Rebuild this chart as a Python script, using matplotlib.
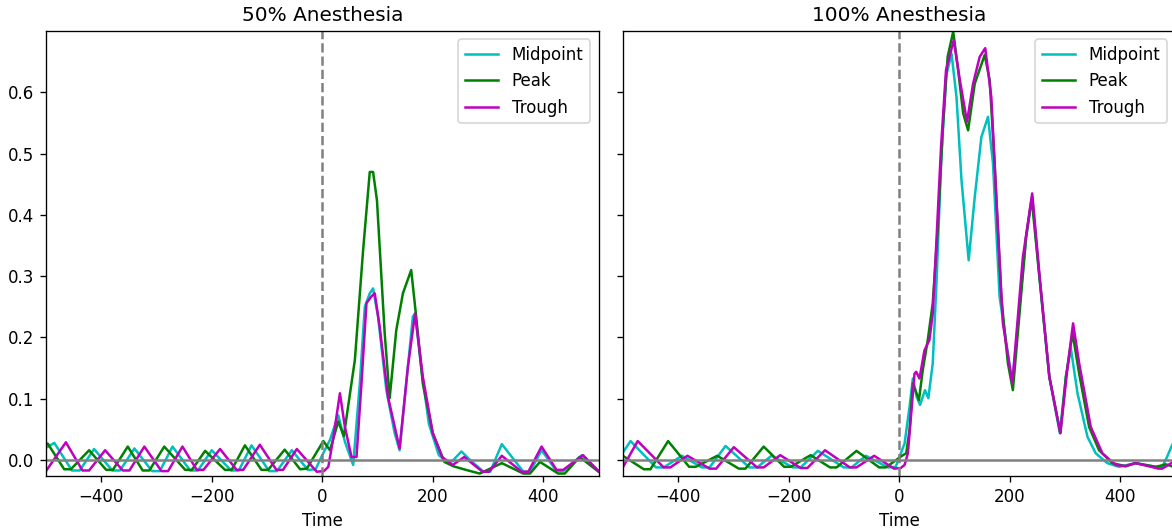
import matplotlib
matplotlib.use("Agg")
import matplotlib.pyplot as plt

# ---- 50% anesthesia ----
t_mid_50 = [-500, -485, -453, -439, -413, -380, -366, -340, -308, -294, -271, -239, -225, -200, -165,
            -151, -128, -96, -82, -55, -26, -12, 0, 14, 29, 41, 56, 68, 77, 86, 92, 101, 116, 131,
            140, 152, 164, 168, 179, 193, 211, 226, 235, 252, 270, 292, 304, 325, 364, 376, 397,
            424, 436, 470, 500]
mid_50 = [0.020, 0.028, -0.017, -0.017, 0.018, -0.017, -0.017, 0.019, -0.018, -0.018, 0.022, -0.017,
          -0.017, 0.016, -0.017, -0.017, 0.024, -0.018, -0.018, 0.016, -0.016, -0.015, 0.008, 0.033,
          0.073, 0.030, -0.008, 0.125, 0.250, 0.272, 0.280, 0.234, 0.114, 0.044, 0.016, 0.125,
          0.234, 0.239, 0.152, 0.059, 0.008, -0.003, -0.002, 0.014, -0.002, -0.019, -0.019, 0.026,
          -0.019, -0.019, 0.016, -0.018, -0.018, 0.008, -0.018]

t_peak_50 = [-500, -497, -467, -455, -422, -391, -379, -352, -325, -313, -286, -248, -236, -212, -176,
             -164, -140, -110, -98, -68, -40, -28, 2, 14, 29, 39, 59, 74, 86, 92, 99, 113, 122, 134,
             146, 161, 170, 182, 200, 221, 237, 260, 285, 325, 364, 376, 394, 427, 439, 466, 500]
peak_50 = [0.025, 0.027, -0.015, -0.015, 0.016, -0.016, -0.016, 0.022, -0.017, -0.017, 0.022, -0.016,
           -0.016, 0.015, -0.016, -0.016, 0.024, -0.016, -0.016, 0.017, -0.015, -0.014, 0.031, 0.016,
           0.063, 0.039, 0.163, 0.343, 0.470, 0.470, 0.424, 0.207, 0.101, 0.212, 0.272, 0.310,
           0.234, 0.125, 0.044, -0.003, -0.010, -0.016, -0.022, -0.005, -0.022, -0.022, -0.003,
           -0.022, -0.022, 0.005, -0.019]

t_trough_50 = [-500, -464, -434, -422, -393, -361, -349, -322, -291, -279, -253, -227, -215, -185,
               -155, -143, -113, -83, -71, -46, -10, 3, 11, 20, 32, 41, 53, 62, 71, 80, 89, 95, 104,
               119, 140, 155, 168, 182, 200, 217, 236, 257, 290, 302, 325, 361, 373, 397, 424, 436,
               472, 500]
trough_50 = [-0.018, 0.029, -0.017, -0.017, 0.016, -0.017, -0.017, 0.022, -0.018, -0.018, 0.022,
             -0.016, -0.016, 0.018, -0.016, -0.016, 0.025, -0.016, -0.016, 0.018, -0.019, -0.018,
             -0.011, 0.036, 0.109, 0.054, 0.005, 0.005, 0.125, 0.256, 0.267, 0.272, 0.217, 0.103,
             0.019, 0.152, 0.239, 0.136, 0.044, 0.005, -0.008, 0.005, -0.019, -0.019, 0.007, -0.019,
             -0.019, 0.022, -0.016, -0.016, 0.008, -0.018]

# ---- 100% anesthesia ----
t_mid_100 = [-500, -486, -440, -426, -393, -357, -343, -314, -271, -257, -231, -192, -178, -147, -100,
             -86, -60, -20, -6, 10, 19, 25, 32, 38, 47, 53, 61, 68, 76, 85, 95, 104, 113, 126, 137,
             149, 161, 170, 182, 205, 230, 241, 254, 272, 291, 302, 311, 323, 341, 356, 377, 398,
             428, 470, 476, 485, 493, 500]
mid_100 = [0.012, 0.031, -0.012, -0.012, 0.007, -0.012, -0.012, 0.023, -0.012, -0.012, 0.007, -0.012,
           -0.012, 0.015, -0.012, -0.012, 0.007, -0.012, -0.011, 0.027, 0.087, 0.133, 0.103, 0.090,
           0.114, 0.101, 0.158, 0.294, 0.484, 0.626, 0.663, 0.592, 0.457, 0.326, 0.429, 0.527,
           0.560, 0.484, 0.266, 0.125, 0.364, 0.430, 0.299, 0.136, 0.044, 0.136, 0.182, 0.109,
           0.038, 0.011, -0.005, -0.011, -0.005, -0.012, -0.012, 0.005, 0.022, 0.035]

t_peak_100 = [-500, -462, -450, -418, -380, -368, -329, -290, -278, -245, -208, -196, -160, -125, -113,
              -77, -36, -24, 7, 13, 19, 25, 36, 43, 52, 61, 70, 79, 88, 98, 107, 116, 125, 137, 155,
              164, 173, 185, 197, 206, 218, 230, 240, 254, 272, 292, 302, 314, 326, 344, 362, 386,
              410, 428, 465, 483, 500]
peak_100 = [0.007, -0.015, -0.015, 0.031, -0.011, -0.011, 0.007, -0.014, -0.014, 0.022, -0.011,
            -0.011, 0.008, -0.012, -0.012, 0.015, -0.012, -0.012, 0.008, 0.011, 0.049, 0.125, 0.098,
            0.147, 0.196, 0.256, 0.375, 0.538, 0.658, 0.699, 0.636, 0.566, 0.538, 0.614, 0.661,
            0.620, 0.484, 0.266, 0.158, 0.114, 0.239, 0.364, 0.427, 0.299, 0.136, 0.044, 0.136,
            0.207, 0.141, 0.054, 0.016, -0.005, -0.010, -0.005, -0.011, -0.007, -0.012]

t_trough_100 = [-500, -473, -426, -414, -383, -343, -331, -299, -257, -245, -215, -178, -166, -134,
                -89, -77, -45, -9, 3, 10, 16, 22, 28, 31, 37, 46, 55, 61, 68, 76, 85, 99, 110, 123,
                134, 146, 156, 167, 176, 188, 205, 224, 241, 254, 272, 292, 305, 315, 326, 347, 368,
                392, 410, 428, 470, 476, 493, 500]
trough_100 = [-0.012, 0.031, -0.012, -0.012, 0.007, -0.014, -0.014, 0.021, -0.012, -0.012, 0.008,
              -0.013, -0.013, 0.016, -0.012, -0.012, 0.007, -0.014, -0.013, -0.008, 0.011, 0.076,
              0.141, 0.144, 0.133, 0.179, 0.196, 0.239, 0.364, 0.511, 0.636, 0.685, 0.620, 0.552,
              0.614, 0.658, 0.672, 0.592, 0.429, 0.223, 0.125, 0.330, 0.435, 0.304, 0.136, 0.044,
              0.152, 0.223, 0.158, 0.054, 0.011, -0.008, -0.010, -0.005, -0.014, -0.014, -0.005,
              -0.002]

panels = [
    ("50% Anesthesia", (t_mid_50, mid_50), (t_peak_50, peak_50), (t_trough_50, trough_50)),
    ("100% Anesthesia", (t_mid_100, mid_100), (t_peak_100, peak_100), (t_trough_100, trough_100)),
]

fig = plt.figure(figsize=(1172 / 120, 529 / 120), dpi=120)
ax1 = fig.add_axes([46 / 1172, 53 / 529, 552.5 / 1172, 445 / 529])
ax2 = fig.add_axes([622.8 / 1172, 53 / 529, 552.5 / 1172, 445 / 529], sharey=ax1)

for ax, (title, mid, peak, trough) in zip([ax1, ax2], panels):
    ax.plot(*mid, color='c', label='Midpoint')
    ax.plot(*peak, color='g', label='Peak')
    ax.plot(*trough, color='m', label='Trough')
    ax.axhline(0, color='gray')
    ax.axvline(0, color='gray', linestyle='--')
    ax.set_title(title)
    ax.set_xlabel('Time')
    ax.set_xlim(-500, 500)
    ax.legend(loc='upper right')

ax1.set_ylim(-0.026, 0.700)
ax1.set_yticks([0.0, 0.1, 0.2, 0.3, 0.4, 0.5, 0.6])
ax2.tick_params(labelleft=False)

fig.savefig('out.png', dpi=120)
